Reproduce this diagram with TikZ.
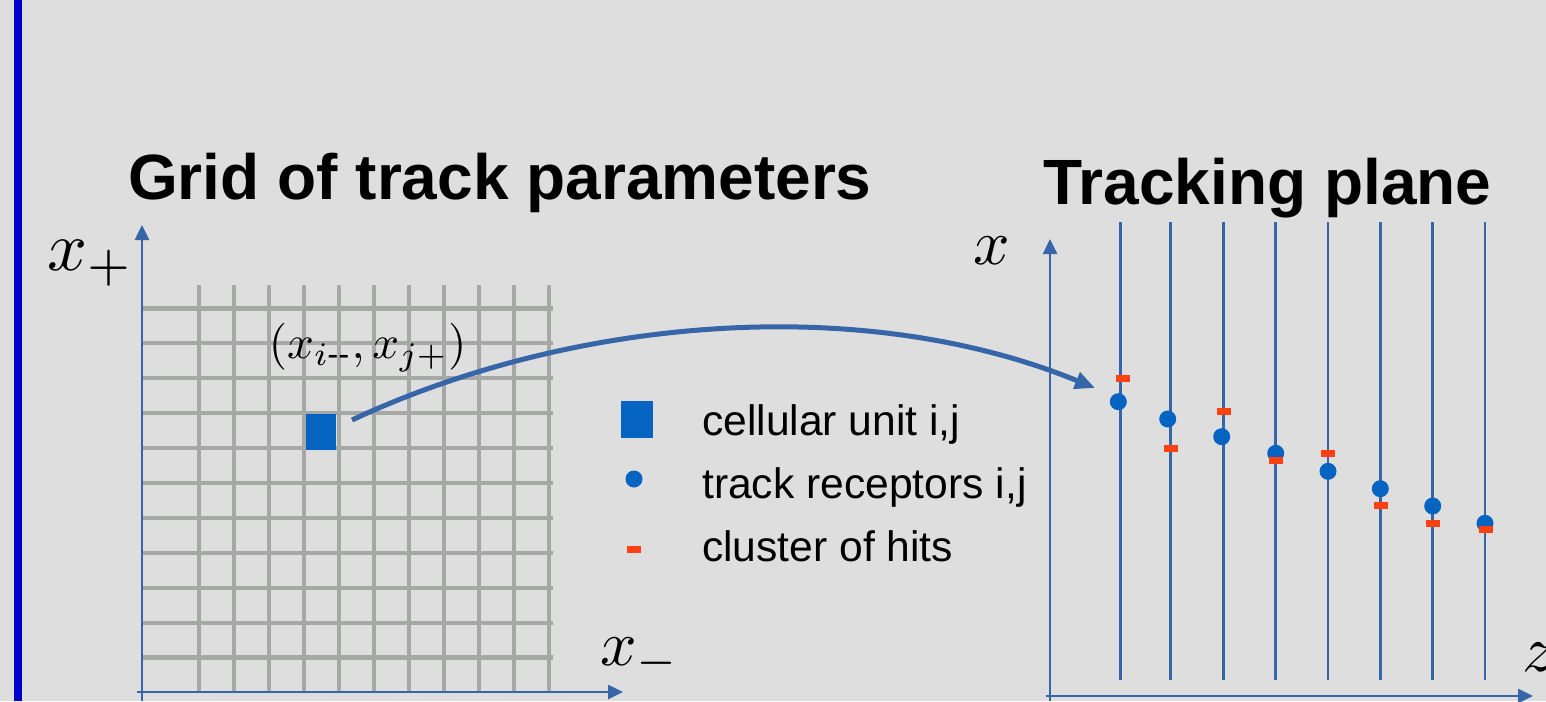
\documentclass[tikz,border=0pt]{standalone}
\usepackage{fontspec}
\setmainfont{Liberation Sans}
\usetikzlibrary{arrows.meta}
\definecolor{bgcol}{RGB}{222,222,222}
\definecolor{barblue}{RGB}{0,0,204}
\definecolor{gridgray}{RGB}{166,168,166}
\definecolor{axisblue}{RGB}{54,101,168}
\definecolor{unitblue}{RGB}{5,99,193}
\definecolor{hitred}{RGB}{255,64,16}
\begin{document}
\begin{tikzpicture}[x=1pt,y=-1pt,
  gridline/.style={draw=gridgray,line width=4.5pt},
  axisline/.style={draw=axisblue,line width=2.5pt,-{Triangle[length=15pt,width=14pt]}},
  planeline/.style={draw=axisblue,line width=2.5pt},
  conn/.style={draw=axisblue,line width=5pt,-{Triangle[length=20pt,width=17pt]}},
  unitbox/.style={fill=unitblue,inner sep=0pt,minimum width=30pt,minimum height=36pt},
  receptor/.style={circle,fill=unitblue,inner sep=0pt,minimum size=17pt},
  hit/.style={fill=hitred,inner sep=0pt,minimum width=14pt,minimum height=7pt},
  titletext/.style={anchor=base west,inner sep=0pt,font=\fontsize{64}{70}\selectfont\bfseries},
  legtext/.style={anchor=base west,inner sep=0pt,font=\fontsize{42.6}{48}\selectfont},
  mathlabel/.style={anchor=base west,inner sep=0pt}
]
\useasboundingbox (0,0) rectangle (1546,701);
\fill[bgcol] (0,0) rectangle (1546,701);
\fill[barblue] (14,0) rectangle (22,701);

% titles
\node[titletext] (title1) at (128,199) {Grid of track parameters};
\node[titletext] (title2) at (1043,204) {Tracking plane};

% grid
\foreach \i in {0,...,10} {
  \draw[gridline] (199+35*\i,285) -- (199+35*\i,692);
  \draw[gridline] (142,308.3+34.94*\i) -- (553,308.3+34.94*\i);
}
% left axes
\coordinate (lorigin) at (142,701);
\coordinate (lytip) at (142,225);
\coordinate (lxstart) at (137,692);
\coordinate (lxtip) at (623,692);
\draw[axisline] (lorigin) -- (lytip);
\draw[axisline] (lxstart) -- (lxtip);
\node[mathlabel,scale=7] (xplus) at (46,270) {$x_+$};
\node[mathlabel,scale=6.4] (xminus) at (599,665) {$x_-$};
\node[mathlabel,scale=4.7] (cellab) at (268,358) {$(x_{i\mbox{\scriptsize -}\mbox{\scriptsize -}},x_{j+})$};

% cellular unit
\node[unitbox] (cell) at (321,432) {};

% legend
\node[unitbox,minimum width=32pt,minimum height=37pt] (legunit) at (637,419) {};
\node[receptor] (legrec) at (634,479) {};
\node[hit] (leghit) at (634,549) {};
\node[legtext] (legunittxt) at (702,435) {cellular unit i,j};
\node[legtext] (legrectxt) at (702,498) {track receptors i,j};
\node[legtext] (leghittxt) at (702,561.7) {cluster of hits};

% tracking plane axes
\coordinate (rorigin) at (1050,701);
\coordinate (rytip) at (1050,239);
\coordinate (rxstart) at (1046,696);
\coordinate (rxtip) at (1533,696);
\draw[axisline] (rorigin) -- (rytip);
\draw[axisline] (rxstart) -- (rxtip);
\node[mathlabel,scale=6.4] (xlab) at (972,264) {$x$};
\node[mathlabel,scale=6.6] (zlab) at (1521,671) {$z$};

% detector planes
\foreach \lx [count=\k] in {1120.3,1170.7,1223.3,1275.7,1328,1380.3,1432.7,1485} {
  \draw[planeline] (\lx,222) -- (\lx,680);
}
% receptors
\foreach \px/\py [count=\k] in {1118.3/401.7,1167.7/419,1221.7/436.7,1275.7/453.3,1328/471.3,1380.3/488.7,1432.7/506,1485/523.3} {
  \node[receptor] (rec\k) at (\px,\py) {};
}
% hits
\foreach \px/\py [count=\k] in {1122.7/378,1171.3/448,1223.7/411.3,1276/460.3,1328.3/453,1380.7/505.7,1433/523,1485.7/529.7} {
  \node[hit] (hit\k) at (\px,\py) {};
}

% mapping arrow
\coordinate (arrstart) at (352,420);
\coordinate (arrend) at (1095,388);
\draw[conn] (arrstart) .. controls (570,318) and (860,292) .. (arrend);
\end{tikzpicture}
\end{document}
